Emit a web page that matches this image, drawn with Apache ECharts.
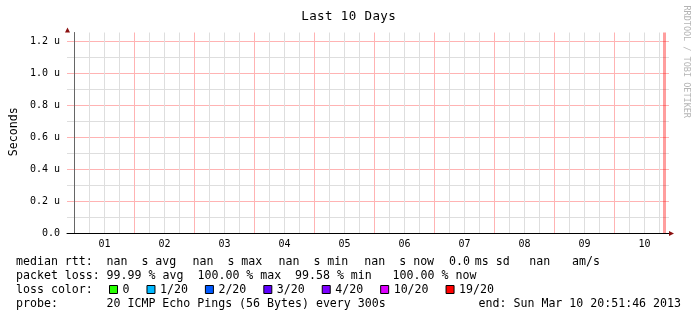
<!DOCTYPE html>
<html><head><meta charset="utf-8">
<style>html,body{margin:0;padding:0;background:#fff}#c{width:697px;height:321px}</style>
<script src="https://cdn.jsdelivr.net/npm/echarts@6/dist/echarts.min.js"></script>
</head><body><div id="c"></div>
<script>
// ---- data ----
const titleText = 'Last 10 Days';
const yAxisName = 'Seconds';
const dayLabels = ['01','02','03','04','05','06','07','08','09','10'];
const yTickValues = [0, 0.2, 0.4, 0.6, 0.8, 1.0, 1.2];
const medianRtt = [];            // all values are nan
const lossEventHours = [236];    // hours since Mar 01 00:00
const lossLabels = ['0','1/20','2/20','3/20','4/20','10/20','19/20'];
const lossColors = ['#26ff00','#00b8ff','#0059ff','#5e00ff','#7e00ff','#dd00ff','#ff0000'];
const rttLine = ['median rtt:', 'nan  s avg', 'nan  s max', 'nan  s min', 'nan  s now', '0.0', 'ms sd', 'nan', 'am/s'];
const lossLine = ['packet loss:', '99.99 % avg', '100.00 % max', '99.58 % min', '100.00 % now'];
const lossColorLabel = 'loss color:';
const probeLine = ['probe:', '20 ICMP Echo Pings (56 Bytes) every 300s'];
const endText = 'end: Sun Mar 10 20:51:46 2013';
const watermark = 'RRDTOOL / TOBI OETIKER';

// ---- layout / style ----
const mono = 'DejaVu Sans Mono';
const MAJOR = '#ffb3b3';
const MINOR = '#dedede';
const X_MIN = -3, X_SPAN = 240.8, xMax = X_MIN + X_SPAN;
const yMax = 1.25625, Y_MINOR = 0.1;
const rttX = [16, 106.5, 192.5, 278.5, 364.3, 449, 474.8, 529.3, 572];
const lossX = [16, 106.6, 197.5, 295, 392.6];
const probeX = [16, 106.5];
const lineY = [262, 276, 290, 304];

// vertical grid lines (every 6 h, day boundaries red)
const minorV = [], majorV = [];
for (let h = 0; h < xMax; h += 6) (h % 24 === 0 ? majorV : minorV).push({xAxis: h});

const chart = echarts.init(document.getElementById('c'), null, {renderer: 'canvas'});

const txt = (t, x, y, extra) => ({type: 'text', x, y, silent: true,
  style: Object.assign({text: t, fontFamily: mono, fontSize: 11.6, fill: '#000', align: 'left', verticalAlign: 'middle'}, extra || {})});

const graphics = [];
rttLine.forEach((t, i) => graphics.push(txt(t, rttX[i], lineY[0])));
lossLine.forEach((t, i) => graphics.push(txt(t, lossX[i], lineY[1])));
graphics.push(txt(lossColorLabel, 16, lineY[2]));
probeLine.forEach((t, i) => graphics.push(txt(t, probeX[i], lineY[3])));
graphics.push(txt(endText, 681, lineY[3], {align: 'right'}));
// title
graphics.push({type: 'text', x: 348.5, y: 16.3, silent: true, style: {
  text: titleText.split('').map(c => '{c|' + c + '}').join(''),
  rich: {c: {width: 7.9, align: 'center', fontFamily: mono, fontSize: 12.5, fill: '#000'}},
  align: 'center', verticalAlign: 'middle'}});
// y axis name
graphics.push({type: 'text', x: 14.3, y: 131.7, rotation: Math.PI / 2, silent: true,
  style: {text: yAxisName, fontFamily: mono, fontSize: 11.6, fill: '#000', align: 'center', verticalAlign: 'middle'}});
// watermark
graphics.push({type: 'text', x: 686.2, y: 61.7, rotation: -Math.PI / 2, silent: true,
  style: {text: watermark, fontFamily: mono, fontSize: 8.5, fill: '#b4b4b4', align: 'center', verticalAlign: 'middle'}});

const gridMarkLine = (data, color, width) => ({silent: true, symbol: ['none', 'none'], label: {show: false},
  lineStyle: {width: width || 1, type: 'solid', color: color}, emphasis: {disabled: true}, data: data});

const option = {
  animation: false,
  backgroundColor: '#fff',
  grid: {left: 67, top: 32.5, width: 602, height: 201, containLabel: false},
  legend: {
    data: lossLabels, left: 109, top: 283.5, padding: 0, icon: 'rect',
    itemWidth: 8, itemHeight: 8, itemGap: 17, selectedMode: false,
    itemStyle: {borderColor: '#000', borderWidth: 1},
    textStyle: {fontFamily: mono, fontSize: 11.6, color: '#000'}
  },
  xAxis: {
    type: 'value', min: X_MIN, max: xMax, z: 5,
    axisLine: {show: true, onZero: false, lineStyle: {color: '#000', width: 1}},
    axisTick: {show: false},
    splitLine: {show: false},
    axisLabel: {
      customValues: dayLabels.map((d, i) => i * 24 + 12),
      formatter: v => dayLabels[Math.round((v - 12) / 24)] || '',
      fontFamily: mono, fontSize: 10, color: '#000', margin: 6
    }
  },
  yAxis: {
    type: 'value', min: 0, max: yMax, interval: Y_MINOR, z: 5,
    axisLine: {show: true, lineStyle: {color: '#666', width: 1}},
    axisTick: {show: false},
    axisLabel: {
      customValues: yTickValues,
      formatter: v => v === 0 ? '0.0' : v.toFixed(1) + ' u',
      fontFamily: mono, fontSize: 10, color: '#000', margin: 7
    },
    splitLine: {show: false}
  },
  graphic: graphics,
  series: [
    {type: 'line', name: 'median rtt', data: medianRtt, showSymbol: false, silent: true,
      markLine: gridMarkLine(minorV, MINOR)},
    {type: 'line', name: 'day grid', data: [], silent: true,
      markLine: gridMarkLine(majorV, MAJOR)},
    {type: 'line', name: 'loss', data: [], silent: true,
      markLine: gridMarkLine(lossEventHours.map(h => ({xAxis: h})), 'rgba(255,0,0,0.38)', 3)}
  ].concat(lossLabels.map((l, i) => ({type: 'line', name: l, data: [], color: lossColors[i]})))
};
chart.setOption(option);

// horizontal grid lines from the y scale, and axis arrows
const [ax, ayTop] = chart.convertToPixel({gridIndex: 0}, [X_MIN, yMax]);
const [axRight, ayBottom] = chart.convertToPixel({gridIndex: 0}, [xMax, 0]);
const hMinor = [], hMajor = [];
for (let k = 1; k * Y_MINOR < yMax; k++) {
  const py = Math.floor(chart.convertToPixel({yAxisIndex: 0}, k * Y_MINOR)) + 0.5;
  const el = {type: 'line', silent: true, z: 1, shape: {x1: ax, y1: py, x2: axRight, y2: py},
    style: {stroke: k % 2 === 0 ? MAJOR : MINOR, lineWidth: 1}};
  (k % 2 === 0 ? hMajor : hMinor).push(el);
}
const yx = Math.round(ax) + 0.5, xy = Math.floor(ayBottom) + 0.5;
chart.setOption({graphic: graphics.concat(hMinor, hMajor, [
  {type: 'polygon', silent: true, z: 10, shape: {points: [[yx - 2.5, ayTop], [yx + 2.5, ayTop], [yx, ayTop - 5]]}, style: {fill: '#8b1010'}},
  {type: 'polygon', silent: true, z: 10, shape: {points: [[axRight, xy - 2.5], [axRight, xy + 2.5], [axRight + 5, xy]]}, style: {fill: '#8b1010'}}
])});
</script>
</body></html>
